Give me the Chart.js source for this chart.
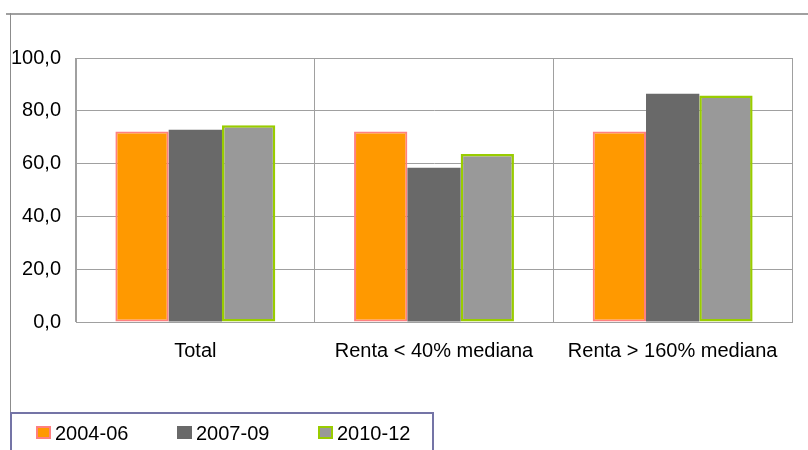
<!DOCTYPE html>
<html>
<head>
<meta charset="utf-8">
<script src="https://cdn.jsdelivr.net/npm/chart.js@4/dist/chart.umd.min.js"></script>
<style>
  html, body { margin: 0; padding: 0; background: #ffffff; }
  #wrap { width: 808px; height: 450px; position: relative; }
</style>
</head>
<body>
<div id="wrap"><canvas id="c" width="808" height="450"></canvas></div>
<script>
const categories = ['Total', 'Renta < 40% mediana', 'Renta > 160% mediana'];
const seriesNames = ['2004-06', '2007-09', '2010-12'];
const values2004_06 = [72.2, 72.2, 72.2];
const values2007_09 = [72.8, 58.4, 86.5];
const values2010_12 = [74.5, 63.6, 85.8];
const yTickLabels = ['0,0', '20,0', '40,0', '60,0', '80,0', '100,0'];

const FONT = '"Liberation Sans", Arial, sans-serif';

const framePlugin = {
  id: 'frame',
  beforeDraw(chart) {
    const ctx = chart.ctx;
    ctx.save();
    ctx.fillStyle = '#ffffff';
    ctx.fillRect(0, 0, chart.width, chart.height);
    // outer frame (top and left edges)
    ctx.strokeStyle = '#a0a0a0';
    ctx.lineWidth = 2;
    ctx.beginPath();
    ctx.moveTo(6, 14);
    ctx.lineTo(chart.width, 14);
    ctx.stroke();
    ctx.strokeStyle = '#8c8c8c';
    ctx.lineWidth = 1;
    ctx.beginPath();
    ctx.moveTo(10.5, 13);
    ctx.lineTo(10.5, chart.height);
    ctx.stroke();
    ctx.restore();
  },
  afterDraw(chart) {
    const ctx = chart.ctx;
    ctx.save();
    // legend box
    ctx.strokeStyle = '#7474a6';
    ctx.lineWidth = 2;
    ctx.strokeRect(11, 413, 422, 60);
    // legend items
    ctx.font = '20px ' + FONT;
    ctx.textBaseline = 'alphabetic';
    ctx.textAlign = 'left';
    chart.data.datasets.forEach((ds, i) => {
      const x = 36 + i * 141;
      const y = 426;
      ctx.fillStyle = ds.backgroundColor;
      ctx.fillRect(x, y, 15, 13);
      if (ds.borderWidth > 0) {
        ctx.strokeStyle = ds.borderColor;
        ctx.lineWidth = 2;
        ctx.strokeRect(x + 1, y + 1, 13, 11);
      }
      ctx.fillStyle = '#000000';
      ctx.fillText(ds.label, x + 19, 440);
    });
    // plot area border
    const a = chart.chartArea;
    ctx.strokeStyle = '#a0a0a0';
    ctx.lineWidth = 1;
    ctx.strokeRect(Math.round(a.left) + 0.5, Math.round(a.top) + 0.5, Math.round(a.right - a.left), Math.round(a.bottom - a.top));
    ctx.restore();
  }
};

new Chart(document.getElementById('c'), {
  type: 'bar',
  data: {
    labels: categories,
    datasets: [
      { label: seriesNames[0], data: values2004_06, backgroundColor: '#ff9900', borderColor: '#ff8080', borderWidth: 2, borderSkipped: false },
      { label: seriesNames[1], data: values2007_09, backgroundColor: '#696969', borderColor: '#696969', borderWidth: 0, borderSkipped: false },
      { label: seriesNames[2], data: values2010_12, backgroundColor: '#999999', borderColor: '#99cc00', borderWidth: 2.5, borderSkipped: false }
    ]
  },
  options: {
    responsive: false,
    animation: false,
    devicePixelRatio: 1,
    layout: { padding: { left: 0, top: 58, right: 16, bottom: 68 } },
    datasets: { bar: { barPercentage: 1.0, categoryPercentage: 0.67 } },
    plugins: {
      legend: { display: false },
      tooltip: { enabled: false },
      title: { display: false }
    },
    scales: {
      x: {
        grid: { display: true, offset: true, color: '#a0a0a0', lineWidth: 1, drawTicks: false },
        border: { display: true, color: '#a0a0a0' },
        ticks: { color: '#000000', font: { family: FONT, size: 20 }, padding: 17, maxRotation: 0, autoSkip: false },
        afterFit(scale) { scale.height = 60; }
      },
      y: {
        min: 0, max: 100,
        grid: { color: '#a0a0a0', lineWidth: 1, drawTicks: false },
        border: { display: true, color: '#a0a0a0' },
        ticks: {
          stepSize: 20,
          color: '#000000',
          font: { family: FONT, size: 20 },
          padding: 15,
          callback: function(value) { return yTickLabels[Math.round(value / 20)]; }
        },
        afterFit(scale) { scale.width = 76; }
      }
    }
  },
  plugins: [framePlugin]
});
</script>
</body>
</html>
